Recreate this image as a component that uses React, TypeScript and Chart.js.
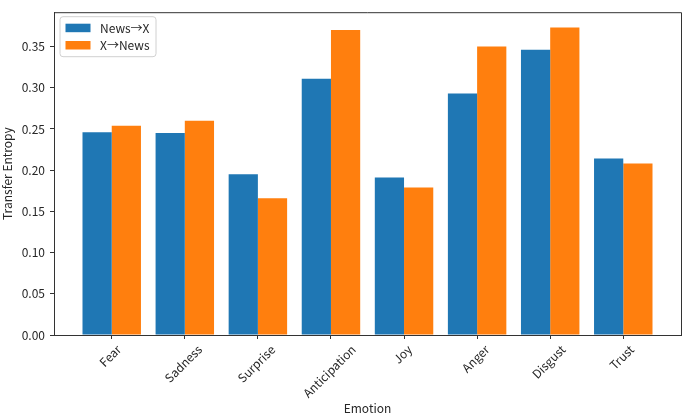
import React, { useEffect, useRef } from 'react';
import { Chart, registerables } from 'chart.js';

Chart.register(...registerables);

const categories = ['Fear', 'Sadness', 'Surprise', 'Anticipation', 'Joy', 'Anger', 'Disgust', 'Trust'];
const seriesLabels = ['News→X', 'X→News'];
const newsToX = [0.246, 0.245, 0.195, 0.311, 0.191, 0.293, 0.346, 0.214];
const xToNews = [0.254, 0.260, 0.166, 0.370, 0.179, 0.350, 0.373, 0.208];
const yTickValues = [0, 0.05, 0.1, 0.15, 0.2, 0.25, 0.3, 0.35];
const seriesColors = ['#1f77b4', '#ff7f0e'];

const FONT = '"Noto Sans CJK JP", "Noto Sans", sans-serif';
const FS = 12;
const TEXT = '#262626';
const AXIS = '#333333';

export default function App() {
  const ref = useRef<HTMLCanvasElement>(null);

  useEffect(() => {
    const canvas = ref.current;
    if (!canvas) return;

    const n = categories.length;
    const span = n - 1 + 0.8;
    const xMargin = span * 0.05;
    const dataMax = Math.max(...newsToX, ...xToNews);
    const yMax = dataMax * 1.05;

    const decor = {
      id: 'decor',
      afterDraw(chart: any) {
        const { ctx, chartArea } = chart;
        const { left, right, top, bottom } = chartArea;
        ctx.save();
        // top and right spines
        ctx.strokeStyle = AXIS;
        ctx.lineWidth = 1;
        ctx.beginPath();
        ctx.moveTo(left, top + 0.5);
        ctx.lineTo(right + 0.5, top + 0.5);
        ctx.lineTo(right + 0.5, bottom);
        ctx.stroke();

        // rotated x tick labels, centered on ticks
        const xs = chart.scales.x;
        ctx.font = `${FS}px ${FONT}`;
        ctx.fillStyle = TEXT;
        ctx.textAlign = 'center';
        ctx.textBaseline = 'middle';
        const h = 12;
        categories.forEach((c, i) => {
          const w = ctx.measureText(c).width;
          const ext = (w + h) * Math.SQRT1_2;
          const cx = xs.getPixelForValue(i) - 1.5;
          const cy = bottom + 8 + ext / 2;
          ctx.save();
          ctx.translate(cx, cy);
          ctx.rotate(-Math.PI / 4);
          ctx.fillText(c, 0, 0);
          ctx.restore();
        });

        // legend
        const lx = left + 6;
        const ly = top + 4.5;
        const lw = 96;
        const lh = 40;
        const r = 3;
        ctx.beginPath();
        ctx.moveTo(lx + r, ly);
        ctx.lineTo(lx + lw - r, ly);
        ctx.quadraticCurveTo(lx + lw, ly, lx + lw, ly + r);
        ctx.lineTo(lx + lw, ly + lh - r);
        ctx.quadraticCurveTo(lx + lw, ly + lh, lx + lw - r, ly + lh);
        ctx.lineTo(lx + r, ly + lh);
        ctx.quadraticCurveTo(lx, ly + lh, lx, ly + lh - r);
        ctx.lineTo(lx, ly + r);
        ctx.quadraticCurveTo(lx, ly, lx + r, ly);
        ctx.closePath();
        ctx.fillStyle = 'rgba(255,255,255,0.8)';
        ctx.fill();
        ctx.strokeStyle = '#d0d0d0';
        ctx.lineWidth = 1;
        ctx.stroke();

        ctx.textAlign = 'left';
        ctx.textBaseline = 'middle';
        seriesLabels.forEach((lab, k) => {
          const sy = ly + 7 + k * 17.3;
          ctx.fillStyle = seriesColors[k];
          ctx.fillRect(lx + 5.5, sy, 25, 8.5);
          ctx.fillStyle = TEXT;
          ctx.fillText(lab, lx + 40, sy + 4.5);
        });
        ctx.restore();
      },
    };

    const chart = new Chart(canvas, {
      type: 'bar',
      data: {
        datasets: [
          {
            label: seriesLabels[0],
            data: categories.map((_, i) => ({ x: i, y: newsToX[i] })),
            backgroundColor: seriesColors[0],
            categoryPercentage: 0.8,
            barPercentage: 1,
          },
          {
            label: seriesLabels[1],
            data: categories.map((_, i) => ({ x: i, y: xToNews[i] })),
            backgroundColor: seriesColors[1],
            categoryPercentage: 0.8,
            barPercentage: 1,
          },
        ],
      },
      options: {
        responsive: false,
        animation: false,
        layout: { padding: { left: 0, right: 4, top: 3, bottom: 0 } },
        plugins: {
          legend: { display: false },
          tooltip: { enabled: false },
        },
        scales: {
          x: {
            type: 'linear',
            offset: false,
            min: -0.4 - xMargin,
            max: n - 1 + 0.4 + xMargin,
            afterBuildTicks: (s: any) => {
              s.ticks = categories.map((_, i) => ({ value: i }));
            },
            afterFit: (s: any) => {
              s.height = 81;
            },
            ticks: { display: false, autoSkip: false },
            grid: {
              display: true,
              offset: false,
              drawOnChartArea: false,
              drawTicks: true,
              tickLength: 4,
              color: AXIS,
              tickColor: AXIS,
            },
            border: { display: true, color: AXIS, width: 1 },
            title: {
              display: true,
              text: 'Emotion',
              color: TEXT,
              font: { family: FONT, size: FS },
              padding: { top: 0, bottom: 0 },
            },
          },
          y: {
            type: 'linear',
            min: 0,
            max: yMax,
            afterBuildTicks: (s: any) => {
              s.ticks = yTickValues.map((v) => ({ value: v }));
            },
            afterFit: (s: any) => {
              s.width = 54;
            },
            ticks: {
              color: TEXT,
              font: { family: FONT, size: FS },
              padding: 5,
              callback: (v: any) => Number(v).toFixed(2),
            },
            grid: {
              display: true,
              drawOnChartArea: false,
              drawTicks: true,
              tickLength: 4,
              color: AXIS,
              tickColor: AXIS,
            },
            border: { display: true, color: AXIS, width: 1 },
            title: {
              display: true,
              text: 'Transfer Entropy',
              color: TEXT,
              font: { family: FONT, size: FS },
              padding: { top: 0, bottom: 0 },
            },
          },
        },
      },
      plugins: [decor],
    } as any);

    return () => chart.destroy();
  }, []);

  return (
    <div style={{ position: 'absolute', left: 0, top: 0, width: 685, height: 416 }}>
      <canvas ref={ref} width={685} height={416} style={{ display: 'block' }} />
    </div>
  );
}
